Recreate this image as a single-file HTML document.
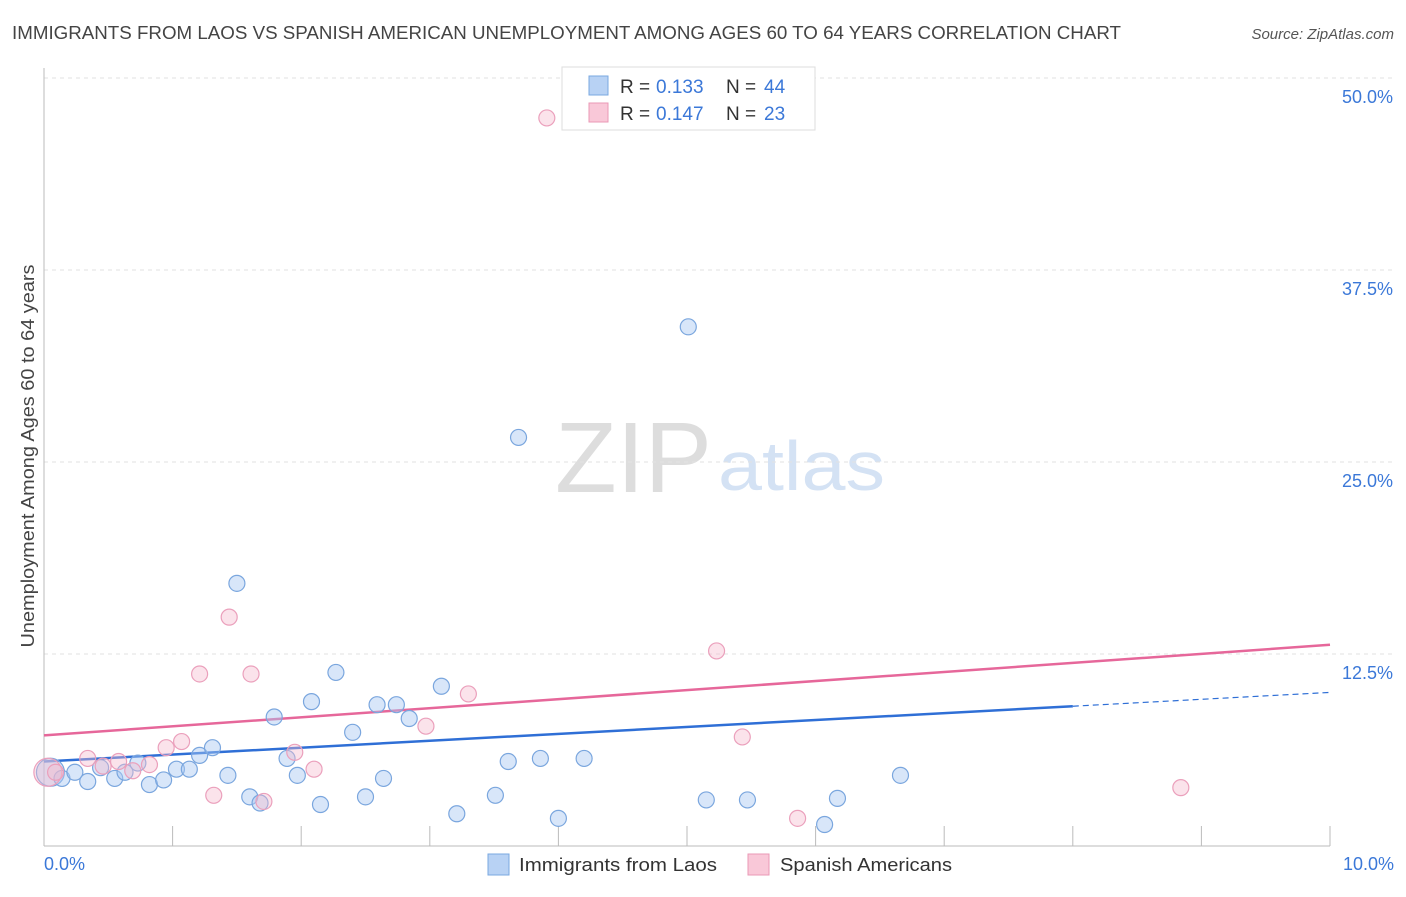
<!DOCTYPE html>
<html><head><meta charset="utf-8"><style>
body{margin:0;background:#fff;font-family:"Liberation Sans",sans-serif;}
svg text{font-family:"Liberation Sans",sans-serif;}
</style></head><body>
<svg id="chart" width="1406" height="892" xmlns="http://www.w3.org/2000/svg">
<text x="12" y="39" font-size="18" fill="#444" textLength="1109" lengthAdjust="spacingAndGlyphs">IMMIGRANTS FROM LAOS VS SPANISH AMERICAN UNEMPLOYMENT AMONG AGES 60 TO 64 YEARS CORRELATION CHART</text>
<text x="1394" y="39" font-size="15" fill="#555" text-anchor="end" font-style="italic">Source: ZipAtlas.com</text>
<g>
<text x="555" y="492" font-size="100" fill="#ddd" font-family="Liberation Serif" textLength="157" lengthAdjust="spacingAndGlyphs">ZIP</text>
<text x="718" y="490" font-size="70" fill="#d4e2f4" textLength="167" lengthAdjust="spacingAndGlyphs">atlas</text>
</g>
<g id="grid"></g><g id="axes"></g><g id="lines"></g><g id="pts"></g>
<text transform="translate(34,456) rotate(-90)" font-size="18" fill="#444" text-anchor="middle" textLength="383" lengthAdjust="spacingAndGlyphs">Unemployment Among Ages 60 to 64 years</text>
<g>
<rect x="562" y="67" width="253" height="63" fill="#fff" stroke="#ddd"/>
<rect x="589" y="76" width="19" height="19" fill="#b8d2f4" stroke="#7aa8e0"/>
<rect x="589" y="103" width="19" height="19" fill="#f9c8d8" stroke="#ea98b6"/>
<text x="620" y="93" font-size="19" fill="#333">R = </text><text x="656" y="93" font-size="19" fill="#3b78d8">0.133</text>
<text x="726" y="93" font-size="19" fill="#333">N = </text><text x="764" y="93" font-size="19" fill="#3b78d8">44</text>
<text x="620" y="120" font-size="19" fill="#333">R = </text><text x="656" y="120" font-size="19" fill="#3b78d8">0.147</text>
<text x="726" y="120" font-size="19" fill="#333">N = </text><text x="764" y="120" font-size="19" fill="#3b78d8">23</text>
</g>
<g>
<rect x="488" y="854" width="21" height="21" fill="#b8d2f4" stroke="#7aa8e0"/>
<text x="519" y="871" font-size="18" fill="#333" textLength="198" lengthAdjust="spacingAndGlyphs">Immigrants from Laos</text>
<rect x="748" y="854" width="21" height="21" fill="#f9c8d8" stroke="#ea98b6"/>
<text x="780" y="871" font-size="18" fill="#333" textLength="172" lengthAdjust="spacingAndGlyphs">Spanish Americans</text>
</g>
</svg>
<script>
const yTicks=[12.5,25,37.5,50];
const yTickLabels=["12.5%","25.0%","37.5%","50.0%"];
const blueX=[0.05,0.14,0.24,0.34,0.44,0.55,0.63,0.73,0.82,0.93,1.03,1.13,1.21,1.31,1.43,1.5,1.6,1.68,1.79,1.89,1.97,2.08,2.15,2.27,2.4,2.5,2.59,2.64,2.74,2.84,3.09,3.21,3.51,3.61,3.69,3.86,4.0,4.2,5.01,5.15,5.47,6.07,6.17,6.66];
const blueY=[4.8,4.4,4.8,4.2,5.1,4.4,4.8,5.4,4.0,4.3,5.0,5.0,5.9,6.4,4.6,17.1,3.2,2.8,8.4,5.7,4.6,9.4,2.7,11.3,7.4,3.2,9.2,4.4,9.2,8.3,10.4,2.1,3.3,5.5,26.6,5.7,1.8,5.7,33.8,3.0,3.0,1.4,3.1,4.6];
const pinkX=[0.03,0.09,0.34,0.46,0.58,0.69,0.82,0.95,1.07,1.21,1.32,1.44,1.61,1.71,1.95,2.1,2.97,3.3,3.91,5.23,5.43,5.86,8.84];
const pinkY=[4.8,4.8,5.7,5.2,5.5,4.9,5.3,6.4,6.8,11.2,3.3,14.9,11.2,2.9,6.1,5.0,7.8,9.9,47.4,12.7,7.1,1.8,3.8];
const blueTrend=[5.5,9.1,10.0];
const pinkTrend=[7.2,13.1];
const NS='http://www.w3.org/2000/svg';
const xs=v=>44+v*128.6, ys=v=>846-v*15.36;
function mk(t,a,p){const e=document.createElementNS(NS,t);for(const k in a)e.setAttribute(k,a[k]);document.getElementById(p).appendChild(e);return e;}
yTicks.forEach((t,i)=>{
 const g=mk('line',{x1:44,x2:1394,y1:ys(t),y2:ys(t),stroke:'#e2e2e2','stroke-dasharray':'4,4'},'grid');
 
 
 const l=mk('text',{x:1393,y:ys(t)+25,'font-size':18,fill:'#3b78d8','text-anchor':'end'},'axes');
 l.textContent=yTickLabels[i];
 
 
});
const ax=mk('line',{x1:44,x2:1330,y1:846,y2:846,stroke:'#bbb'},'axes');


const ay=mk('line',{x1:44,x2:44,y1:68,y2:846,stroke:'#bbb'},'axes');


for(let i=1;i<=10;i++){const t=mk('line',{x1:xs(i),x2:xs(i),y1:826,y2:846,stroke:'#bbb'},'axes');
 
 }
[[0,'0.0%','start',44],[10,'10.0%','end',1394]].forEach(d=>{const t=mk('text',{x:d[3],y:870,'font-size':18,fill:'#3b78d8','text-anchor':d[2]},'axes');t.textContent=d[1];
 
 });
let l1=mk('line',{x1:xs(0),y1:ys(blueTrend[0]),x2:xs(8),y2:ys(blueTrend[1]),stroke:'#2f6fd6','stroke-width':2.5},'lines');


let l2=mk('line',{x1:xs(8),y1:ys(blueTrend[1]),x2:xs(10),y2:ys(blueTrend[2]),stroke:'#2f6fd6','stroke-width':1.2,'stroke-dasharray':'6,4'},'lines');


let l3=mk('line',{x1:xs(0),y1:ys(pinkTrend[0]),x2:xs(10),y2:ys(pinkTrend[1]),stroke:'#e6679a','stroke-width':2.5},'lines');


blueX.forEach((x,i)=>{const c=mk('circle',{cx:xs(x),cy:ys(blueY[i]),r:i==0?14:8,fill:'rgba(168,200,242,0.45)',stroke:'#7aa6de','stroke-width':1.2},'pts');
 
 });
pinkX.forEach((x,i)=>{const c=mk('circle',{cx:xs(x),cy:ys(pinkY[i]),r:i==0?14:8,fill:'rgba(246,184,206,0.4)',stroke:'#eba0bc','stroke-width':1.2},'pts');
 
 });
</script>
</body></html>
